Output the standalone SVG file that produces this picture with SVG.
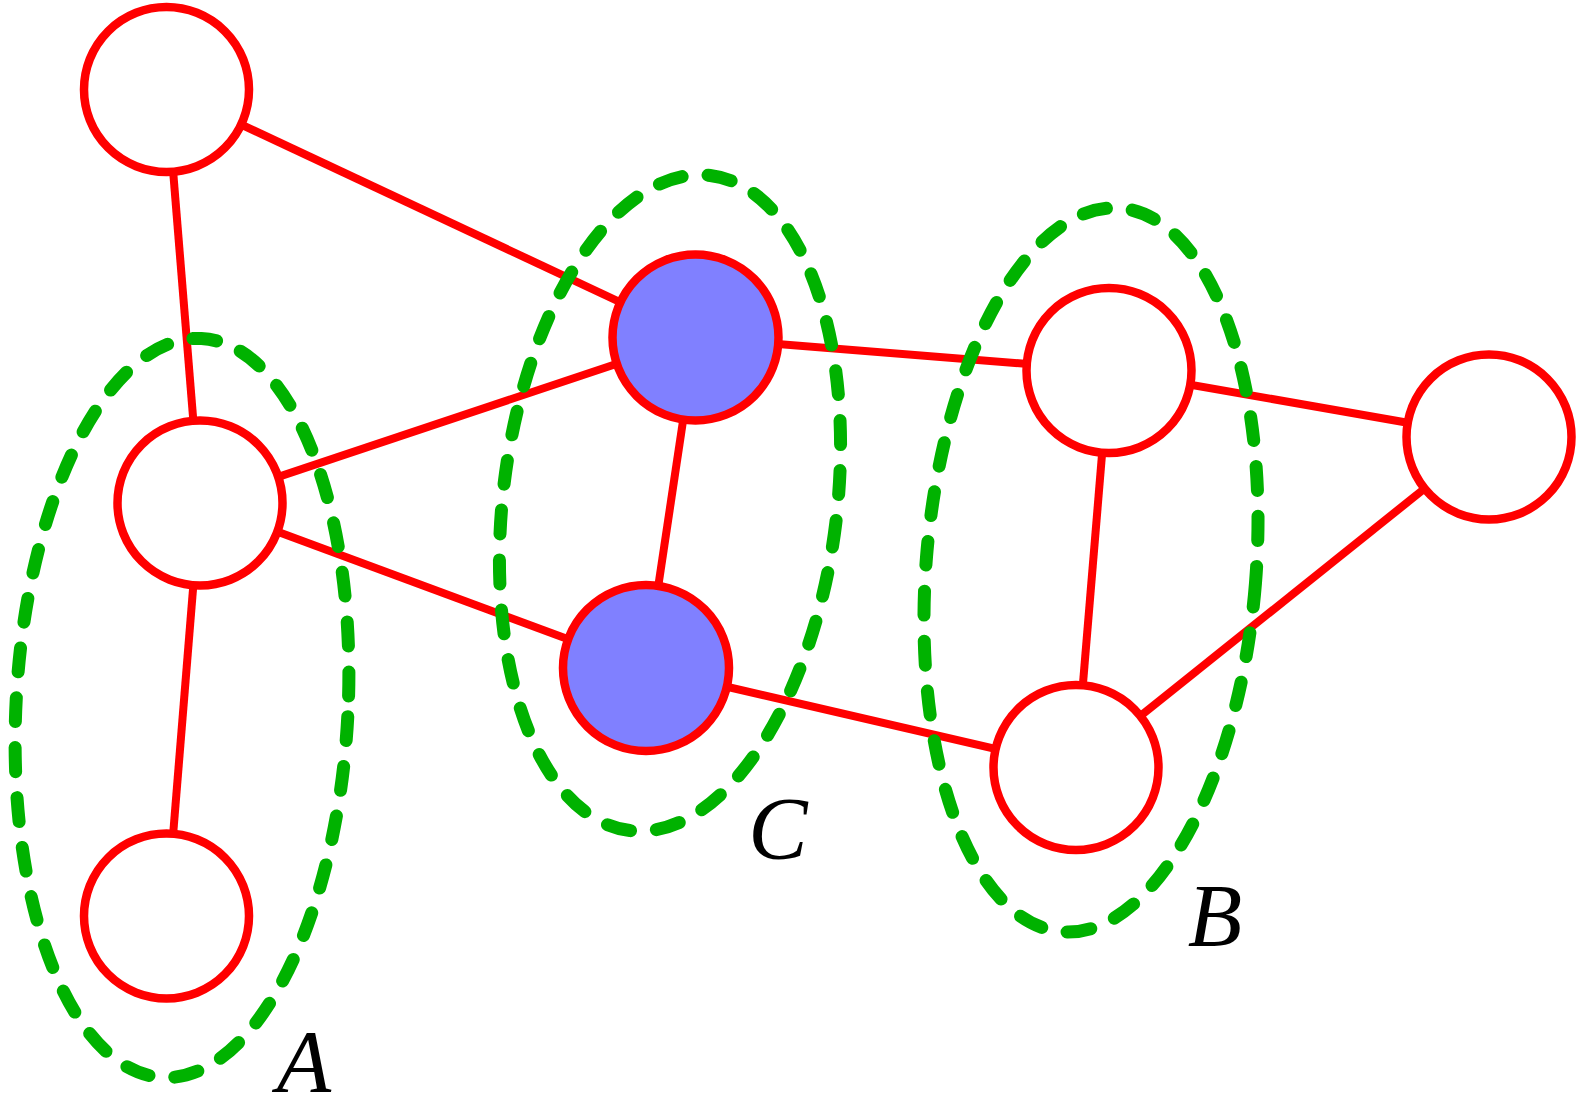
<svg xmlns="http://www.w3.org/2000/svg" width="1583" height="1108" viewBox="0 0 1583 1108">
<style>
.edge{stroke:#ff0000;stroke-width:8;fill:none}
.node{stroke:#ff0000;stroke-width:8.5;fill:#ffffff}
.sel{fill:#8080ff}
.grp{stroke:#00b200;stroke-width:13;fill:none;stroke-dasharray:24 26;stroke-linecap:round}
.lbl{font-family:"Liberation Serif","DejaVu Serif",serif;font-style:italic;font-size:89px;fill:#000;text-anchor:middle}
</style>
<rect width="1583" height="1108" fill="#ffffff"/>
<g id="connectors">
<line class="edge" x1="166.5" y1="89.5" x2="200" y2="503"/>
<line class="edge" x1="166.5" y1="89.5" x2="695.5" y2="337.5"/>
<line class="edge" x1="200" y1="503" x2="695.5" y2="337.5"/>
<line class="edge" x1="200" y1="503" x2="646" y2="668"/>
<line class="edge" x1="200" y1="503" x2="166.5" y2="916"/>
<line class="edge" x1="695.5" y1="337.5" x2="646" y2="668"/>
<line class="edge" x1="695.5" y1="337.5" x2="1109" y2="370.5"/>
<line class="edge" x1="646" y1="668" x2="1076" y2="767.5"/>
<line class="edge" x1="1109" y1="370.5" x2="1489" y2="437"/>
<line class="edge" x1="1109" y1="370.5" x2="1076" y2="767.5"/>
<line class="edge" x1="1076" y1="767.5" x2="1489" y2="437"/>
</g>
<g id="n1"><circle class="node" cx="166.5" cy="89.5" r="82.5"/></g>
<g id="n2"><circle class="node" cx="200" cy="503" r="82.5"/></g>
<g id="n3"><circle class="node" cx="166.5" cy="916" r="82.5"/></g>
<g id="n4"><circle class="node sel" cx="695.5" cy="337.5" r="83"/></g>
<g id="n5"><circle class="node sel" cx="646" cy="668" r="83"/></g>
<g id="n6"><circle class="node" cx="1109" cy="370.5" r="82.5"/></g>
<g id="n7"><circle class="node" cx="1489" cy="437" r="82.5"/></g>
<g id="n8"><circle class="node" cx="1076" cy="767.5" r="82.5"/></g>
<g id="groups">
<ellipse class="grp" cx="182" cy="708" rx="166" ry="370" transform="rotate(3 182 708)"/>
<ellipse class="grp" cx="670" cy="503" rx="167" ry="330" transform="rotate(7 670 503)"/>
<ellipse class="grp" cx="1091" cy="570" rx="165" ry="363" transform="rotate(4.6 1091 570)"/>
</g>
<g id="labels">
<text class="lbl" x="304" y="1091">A</text>
<text class="lbl" x="778" y="858">C</text>
<text class="lbl" x="1215" y="945">B</text>
</g>
</svg>
